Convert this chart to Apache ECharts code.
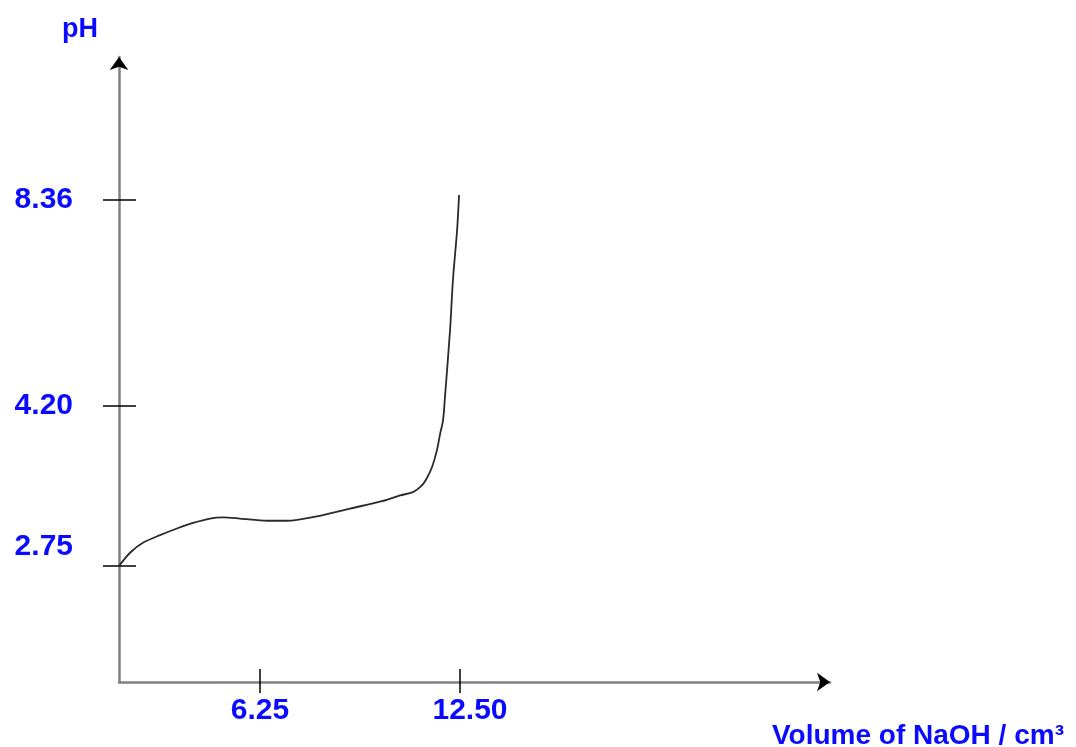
<!DOCTYPE html>
<html>
<head>
<meta charset="utf-8">
<script src="https://cdn.jsdelivr.net/npm/echarts@6/dist/echarts.min.js"></script>
<style>html,body{margin:0;padding:0;background:#fff}#c{width:1076px;height:747px}</style>
</head>
<body>
<div id="c"></div>
<script>
// ---- data ----
const volume = [0, 0.49, 1.06, 1.82, 2.57, 3.28, 4.03, 4.61, 5.36, 6.47, 7.09, 8.03, 9.06, 10.09, 10.63, 11.03, 11.31, 11.47, 11.63, 11.78, 11.88, 11.97, 12.03, 12.19, 12.28, 12.41, 12.47];
const ph     = [2.75, 2.87, 2.96, 3.03, 3.09, 3.14, 3.18, 3.19, 3.18, 3.16, 3.16, 3.20, 3.27, 3.34, 3.39, 3.42, 3.48, 3.55, 3.65, 3.80, 3.95, 4.07, 4.38, 5.74, 6.75, 7.76, 8.46];
const xTickValues = [6.25, 12.50];
const xTickLabels = ['6.25', '12.50'];
const yTickValues = [2.75, 4.20, 8.36];
const yTickLabels = ['2.75', '4.20', '8.36'];
const xName = 'Volume of NaOH / cm³';
const yName = 'pH';

// ---- sketch scale (the drawing is not to scale: piecewise between its ticks) ----
const xScaleVals = [0, 6.25, 12.50];
const xScalePos  = [0, 141, 341];
const yScaleVals = [2.75, 4.20, 8.36];
const yScalePos  = [116, 276, 482];
const xMax = 711, yMax = 625;

function sketch(v, vals, pos) {
  let i = 0;
  if (v <= vals[0]) i = 0;
  else if (v >= vals[vals.length - 1]) i = vals.length - 2;
  else { while (v > vals[i + 1]) i++; }
  const t = (v - vals[i]) / (vals[i + 1] - vals[i]);
  return pos[i] + t * (pos[i + 1] - pos[i]);
}
const sx = v => sketch(v, xScaleVals, xScalePos);
const sy = v => sketch(v, yScaleVals, yScalePos);

const xTickPos = xTickValues.map(sx);
const yTickPos = yTickValues.map(sy);
function labelFor(val, posArr, labels) {
  let best = 0;
  posArr.forEach((p, i) => { if (Math.abs(p - val) < Math.abs(posArr[best] - val)) best = i; });
  return labels[best];
}

const blue = '#0a0aff';
const font = '"Liberation Sans", Arial, sans-serif';
const labelStyle = { color: blue, fontFamily: font, fontWeight: 'bold', fontSize: 30 };

const chart = echarts.init(document.getElementById('c'), null, { renderer: 'canvas' });
chart.setOption({
  animation: false,
  backgroundColor: '#fff',
  grid: { left: 119, top: 57, right: 246, bottom: 65, containLabel: false, outerBoundsMode: 'none' },
  xAxis: [
    {
      type: 'value', min: 0, max: xMax, position: 'bottom',
      axisLine: { show: true, lineStyle: { color: '#808080', width: 2.5 } },
      axisTick: { show: true, length: 11, customValues: xTickPos, lineStyle: { color: '#000', width: 1.5 } },
      axisLabel: Object.assign({
        show: true, margin: 14, customValues: xTickPos,
        formatter: v => { const s = labelFor(v, xTickPos, xTickLabels); return s === '12.50' ? '{r|' + s + '}' : s; },
        rich: { r: Object.assign({ padding: [0, 0, 0, 20] }, labelStyle) }
      }, labelStyle),
      splitLine: { show: false },
      name: xName, nameLocation: 'end', nameGap: -58,
      nameTextStyle: Object.assign({ verticalAlign: 'top', padding: [40, 0, 0, 0] }, labelStyle, { fontSize: 28 })
    },
    {
      type: 'value', min: 0, max: xMax, position: 'bottom',
      axisLine: { show: true, symbol: ['none', 'arrow'], symbolSize: [14, 13], lineStyle: { color: '#000', width: 0 } },
      axisTick: { show: true, inside: true, length: 13, customValues: xTickPos, lineStyle: { color: '#000', width: 1.5 } },
      axisLabel: { show: false },
      splitLine: { show: false }
    }
  ],
  yAxis: [
    {
      type: 'value', min: 0, max: yMax, position: 'left',
      axisLine: { show: true, lineStyle: { color: '#808080', width: 2.5 } },
      axisTick: { show: true, length: 16, customValues: yTickPos, lineStyle: { color: '#000', width: 1.5 } },
      axisLabel: Object.assign({
        show: true, margin: 46, customValues: yTickPos,
        formatter: v => { const s = labelFor(v, yTickPos, yTickLabels); return s === '2.75' ? '{u|' + s + '}' : s; },
        rich: { u: Object.assign({ padding: [0, 0, 38, 0] }, labelStyle) }
      }, labelStyle),
      splitLine: { show: false },
      name: yName, nameLocation: 'end', nameGap: 14,
      nameTextStyle: Object.assign({ padding: [0, 78, 0, 0] }, labelStyle, { fontSize: 27 })
    },
    {
      type: 'value', min: 0, max: yMax, position: 'left',
      axisLine: { show: true, symbol: ['none', 'arrow'], symbolSize: [14, 13], lineStyle: { color: '#000', width: 0 } },
      axisTick: { show: true, inside: true, length: 17, customValues: yTickPos, lineStyle: { color: '#000', width: 1.5 } },
      axisLabel: { show: false },
      splitLine: { show: false }
    }
  ],
  series: [{
    type: 'line',
    xAxisIndex: 0, yAxisIndex: 0,
    data: volume.map((v, i) => [sx(v), sy(ph[i])]),
    smooth: 0.3,
    showSymbol: false,
    lineStyle: { color: '#2a2a2a', width: 1.8 },
    z: 5
  }]
});
</script>
</body>
</html>
